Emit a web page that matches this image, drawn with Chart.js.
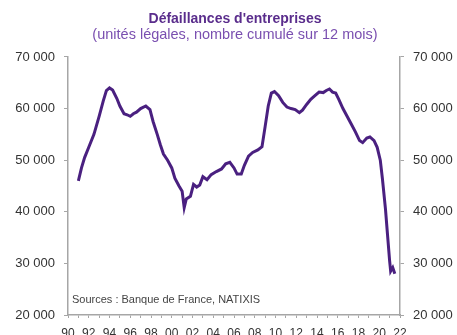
<!DOCTYPE html>
<html lang="fr">
<head>
  <meta charset="UTF-8"/>
  <title>Défaillances d'entreprises</title>
  <script src="https://cdn.jsdelivr.net/npm/chart.js"></script>
  <style>
    html, body {
      margin: 0;
      padding: 0;
      background: #fff;
      overflow: hidden;
    }
    #wrap {
      width: 470px;
      height: 335px;
    }
  </style>
</head>
<body>
  <div id="wrap">
    <canvas id="failChart" width="470" height="335"></canvas>
  </div>
  <script>
    // cumulated over 12 months, legal units (decimal year -> count)
    const dates = [
      1991.0, 1991.3, 1991.6, 1992.0, 1992.5, 1993.0, 1993.4, 1993.7, 1994.0, 1994.3,
      1994.7, 1995.0, 1995.4, 1995.7, 1996.0, 1996.3, 1996.6, 1997.0, 1997.5, 1997.9,
      1998.2, 1998.6, 1998.9, 1999.2, 1999.6, 2000.0, 2000.3, 2000.7, 2001.0, 2001.2,
      2001.4, 2001.8, 2002.1, 2002.4, 2002.7, 2003.0, 2003.4, 2003.8, 2004.3, 2004.8,
      2005.2, 2005.6, 2006.0, 2006.3, 2006.7, 2007.0, 2007.4, 2007.8, 2008.3, 2008.7,
      2009.0, 2009.3, 2009.6, 2009.9, 2010.3, 2010.7, 2011.1, 2011.5, 2011.9, 2012.3,
      2012.6, 2013.0, 2013.4, 2013.8, 2014.2, 2014.6, 2014.9, 2015.2, 2015.5, 2015.8,
      2016.1, 2016.5, 2016.9, 2017.3, 2017.7, 2018.1, 2018.4, 2018.8, 2019.1, 2019.5,
      2019.8, 2020.1, 2020.3, 2020.6, 2020.8, 2021.0, 2021.1, 2021.3, 2021.5
    ];
    const failures = [
      46000, 48500, 50500, 52500, 55000, 58500, 61500, 63500, 64000, 63600,
      62000, 60500, 59000, 58800, 58500, 59000, 59300, 60000, 60500, 59800,
      57500, 55000, 53000, 51200, 50000, 48500, 46500, 45000, 44000, 40800,
      42500, 43000, 45300, 44800, 45200, 46800, 46200, 47200, 47800, 48300,
      49300, 49600, 48500, 47300, 47300, 49000, 50800, 51500, 52000, 52600,
      56500, 60500, 63000, 63300, 62500, 61200, 60300, 60000, 59800, 59200,
      59700, 60800, 61800, 62500, 63200, 63100, 63500, 63800, 63200, 63000,
      61800, 60000, 58500, 57000, 55500, 53800, 53400, 54300, 54500, 53800,
      52500, 50000, 46500, 40500, 35500, 30500, 28500, 29200, 28000
    ];
    const yTicks = [20000, 30000, 40000, 50000, 60000, 70000];
    const yearRange = [1990, 2022];

    const FONT = "Arial, 'Liberation Sans', sans-serif";
    const AXIS_GREY = '#a6a6a6';

    // thousands separated by a space: 70 000
    const fmt = v => String(v).replace(/\B(?=(\d{3})+(?!\d))/g, ' ');

    // source note in the bottom-left of the plot
    const sourceNote = {
      id: 'sourceNote',
      afterDraw(chart) {
        const { ctx, chartArea } = chart;
        ctx.save();
        ctx.font = '11px ' + FONT;
        ctx.fillStyle = '#444';
        ctx.textBaseline = 'middle';
        ctx.fillText('Sources : Banque de France, NATIXIS', chartArea.left + 4, chartArea.bottom - 15);
        ctx.restore();
      }
    };

    const yAxis = (position, width) => ({
      type: 'linear',
      position: position,
      min: yTicks[0],
      max: yTicks[yTicks.length - 1],
      afterBuildTicks(scale) { scale.ticks = yTicks.map(v => ({ value: v })); },
      afterFit(scale) { scale.width = width; },
      grid: { drawOnChartArea: false, drawTicks: true, tickLength: 4, color: AXIS_GREY },
      border: { display: true, color: AXIS_GREY, width: 1.5 },
      ticks: {
        padding: 9,
        color: '#333',
        font: { family: FONT, size: 13 },
        callback: v => fmt(v)
      }
    });

    new Chart(document.getElementById('failChart'), {
      type: 'line',
      data: {
        datasets: [{
          data: dates.map((d, i) => ({ x: d, y: failures[i] })),
          borderColor: '#4a2080',
          borderWidth: 3,
          pointRadius: 0,
          tension: 0,
          yAxisID: 'y'
        }]
      },
      options: {
        responsive: false,
        animation: false,
        layout: { padding: 0 },
        plugins: {
          legend: { display: false },
          tooltip: { enabled: false },
          title: {
            display: true,
            text: "Défaillances d'entreprises",
            color: '#5a2d8c',
            font: { family: FONT, size: 14, weight: 'bold', lineHeight: 1.15 },
            padding: { top: 11, bottom: 0 }
          },
          subtitle: {
            display: true,
            text: '(unités légales, nombre cumulé sur 12 mois)',
            color: '#7a4fb0',
            font: { family: FONT, size: 14.5, lineHeight: 1.15 },
            padding: { top: 0, bottom: 13.2 }
          }
        },
        scales: {
          x: {
            type: 'linear',
            min: yearRange[0],
            max: yearRange[1],
            afterFit(scale) { scale.height = 20; },
            grid: { drawOnChartArea: false, drawTicks: true, tickLength: 3, color: AXIS_GREY },
            border: { display: true, color: AXIS_GREY, width: 1.5 },
            ticks: {
              stepSize: 1,
              autoSkip: false,
              maxRotation: 0,
              padding: 8,
              color: '#333',
              font: { family: FONT, size: 12 },
              callback: v => (v % 2 === 0 ? String(v % 100).padStart(2, '0') : '')
            }
          },
          y: yAxis('left', 68),
          y2: yAxis('right', 70)
        }
      },
      plugins: [sourceNote]
    });
  </script>
</body>
</html>
